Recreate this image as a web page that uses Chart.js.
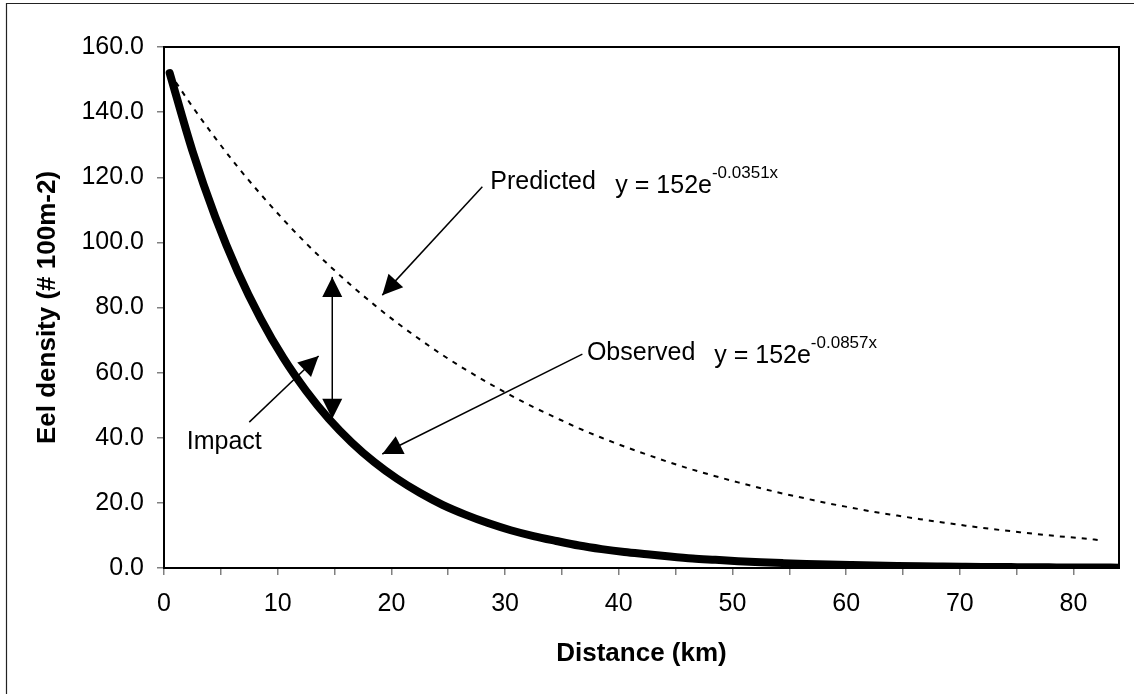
<!DOCTYPE html>
<html>
<head>
<meta charset="utf-8">
<title>Eel density vs distance</title>
<script src="https://cdn.jsdelivr.net/npm/chart.js@4.4.1/dist/chart.umd.min.js"></script>
<style>
  html, body { margin: 0; padding: 0; background: #fff; overflow: hidden; }
  #wrap { width: 1134px; height: 694px; position: relative; }
</style>
</head>
<body>
<div id="wrap"><canvas id="chart"></canvas></div>
<script>
// values (distance in km, density in # per 100 m2)
const distanceKm = [0.5, 2.5, 4.5, 6.5, 8.5, 10.5, 12.5, 14.5, 16.5, 18.5, 20.5, 22.5, 24.5, 26.5, 28.5,
  30.5, 32.5, 34.5, 36.5, 38.5, 40.5, 42.5, 44.5, 46.5, 48.5, 50.5, 52.5, 54.5, 56.5, 58.5, 60.5,
  62.5, 64.5, 66.5, 68.5, 70.5, 72.5, 74.5, 76.5, 78.5, 80.5, 82.5];
const observedDistance = distanceKm.concat([84]);
const observedDensity = [152, 128.1, 107.9, 90.9, 76.6, 64.5, 54.4, 45.8, 38.6, 32.5, 27.4, 23.1, 19.4, 16.4, 13.8,
  11.6, 9.8, 8.3, 6.9, 5.8, 4.9, 4.2, 3.5, 2.9, 2.5, 2.1, 1.76, 1.49, 1.25, 1.05, 0.89,
  0.75, 0.63, 0.53, 0.45, 0.38, 0.32, 0.27, 0.22, 0.19, 0.16, 0.13, 0.11];
const predictedDistance = distanceKm;
const predictedDensity = [152, 141.7, 132.1, 123.1, 114.8, 107.0, 99.7, 93.0, 86.7, 80.8, 75.3, 70.2, 65.4, 61.0, 56.9,
  53.0, 49.4, 46.1, 42.9, 40.0, 37.3, 34.8, 32.4, 30.2, 28.2, 26.3, 24.5, 22.8, 21.3, 19.8, 18.5,
  17.2, 16.1, 15.0, 14.0, 13.0, 12.1, 11.3, 10.5, 9.8, 9.2, 8.5];

// axis ranges and ticks
const xMin = 0, xMax = 84, xStep = 5, xLabelEvery = 10;
const yMin = 0, yMax = 160, yStep = 20;

// arrows [fromX, fromY, toX, toY, bothEnds] in data units
const arrows = [
  [28.0, 117.1, 19.2, 83.8, false],   // Predicted
  [36.8, 65.7, 19.2, 35.0, false],    // Observed
  [14.8, 45.8, 14.8, 89.4, true],     // Impact gap
  [7.5, 44.8, 13.6, 65.1, false]      // Impact label
];
// text labels [x, y, text, superscript] in data units (left / baseline)
const notes = [
  [28.7, 116.4, "Predicted", ""],
  [39.7, 115.2, "y = 152e", "-0.0351x"],
  [37.2, 63.9, "Observed", ""],
  [48.4, 63.0, "y = 152e", "-0.0857x"],
  [2.0, 36.5, "Impact", ""]
];

const FONT = '"Liberation Sans", Arial, Helvetica, sans-serif';

function toPoints(xs, ys) {
  return xs.map((x, i) => ({ x: x, y: ys[i] }));
}

// draws plot frame, outer frame, arrows and notes
const annotate = {
  id: "annotate",
  beforeDraw(chart) {
    const ctx = chart.ctx;
    ctx.save();
    ctx.fillStyle = "#fff";
    ctx.fillRect(0, 0, chart.width, chart.height);
    ctx.strokeStyle = "#222";
    ctx.lineWidth = 1.2;
    ctx.beginPath();
    ctx.moveTo(6.5, chart.height);
    ctx.lineTo(6.5, 3.5);
    ctx.lineTo(chart.width, 3.5);
    ctx.stroke();
    ctx.restore();
  },
  afterDatasetsDraw(chart) {
    const ctx = chart.ctx;
    const xs = chart.scales.x, ys = chart.scales.y;
    const a = chart.chartArea;
    ctx.save();
    ctx.strokeStyle = "#000";
    ctx.lineWidth = 2;
    ctx.strokeRect(a.left, a.top, a.right - a.left, a.bottom - a.top);

    ctx.fillStyle = "#000";
    ctx.lineWidth = 1.5;
    arrows.forEach(([x1, y1, x2, y2, both]) => {
      const p1 = { x: xs.getPixelForValue(x1), y: ys.getPixelForValue(y1) };
      const p2 = { x: xs.getPixelForValue(x2), y: ys.getPixelForValue(y2) };
      ctx.beginPath();
      ctx.moveTo(p1.x, p1.y);
      ctx.lineTo(p2.x, p2.y);
      ctx.stroke();
      drawHead(ctx, p1, p2);
      if (both) drawHead(ctx, p2, p1);
    });

    ctx.textAlign = "left";
    ctx.textBaseline = "alphabetic";
    notes.forEach(([x, y, text, sup]) => {
      const px = xs.getPixelForValue(x), py = ys.getPixelForValue(y);
      ctx.font = "25px " + FONT;
      ctx.fillText(text, px, py);
      if (sup) {
        const w = ctx.measureText(text).width;
        ctx.font = "17px " + FONT;
        ctx.fillText(sup, px + w, py - 15);
      }
    });
    ctx.restore();
  }
};

function drawHead(ctx, from, to) {
  const len = 20, half = 10;
  const ang = Math.atan2(to.y - from.y, to.x - from.x);
  const bx = to.x - len * Math.cos(ang), by = to.y - len * Math.sin(ang);
  ctx.beginPath();
  ctx.moveTo(to.x, to.y);
  ctx.lineTo(bx + half * Math.sin(ang), by - half * Math.cos(ang));
  ctx.lineTo(bx - half * Math.sin(ang), by + half * Math.cos(ang));
  ctx.closePath();
  ctx.fill();
}

document.addEventListener("DOMContentLoaded", function () {
  const ctx = document.getElementById("chart").getContext("2d");
  new Chart(ctx, {
    type: "scatter",
    data: {
      datasets: [
        {
          label: "Predicted",
          data: toPoints(predictedDistance, predictedDensity),
          showLine: true,
          borderColor: "#000",
          borderWidth: 2,
          borderDash: [5, 6],
          pointRadius: 0,
          cubicInterpolationMode: "monotone",
          clip: { left: 0, top: 0, right: 0, bottom: 1 }
        },
        {
          label: "Observed",
          data: toPoints(observedDistance, observedDensity),
          showLine: true,
          borderColor: "#000",
          borderWidth: 8,
          borderCapStyle: "round",
          borderJoinStyle: "round",
          pointRadius: 0,
          cubicInterpolationMode: "monotone",
          clip: { left: 0, top: 0, right: 0, bottom: 1 }
        }
      ]
    },
    options: {
      responsive: true,
      maintainAspectRatio: false,
      animation: false,
      layout: { padding: { left: 0, top: 47, right: 15, bottom: 0 } },
      plugins: { legend: { display: false }, tooltip: { enabled: false } },
      scales: {
        x: {
          type: "linear",
          min: xMin,
          max: xMax,
          afterBuildTicks: (scale) => {
            scale.ticks = scale.ticks.filter(t => t.value % xStep === 0);
          },
          afterFit: (scale) => { scale.height = 126; },
          ticks: {
            stepSize: xStep,
            autoSkip: false,
            maxRotation: 0,
            padding: 14,
            color: "#000",
            font: { family: FONT, size: 25 },
            callback: (v) => (v % xLabelEvery === 0 ? String(v) : "")
          },
          grid: { drawOnChartArea: false, tickLength: 7, color: "#808080", lineWidth: 1.5 },
          border: { display: true, color: "#000", width: 2 },
          title: {
            display: true,
            text: "Distance (km)",
            color: "#000",
            font: { family: FONT, size: 26, weight: "bold" },
            padding: { top: 0, bottom: 25 }
          }
        },
        y: {
          min: yMin,
          max: yMax,
          afterFit: (scale) => { scale.width = 164; },
          ticks: {
            stepSize: yStep,
            padding: 13,
            color: "#000",
            font: { family: FONT, size: 25 },
            callback: (v) => v.toFixed(1)
          },
          grid: { drawOnChartArea: false, tickLength: 7, color: "#808080", lineWidth: 1.5 },
          border: { display: true, color: "#000", width: 2 },
          title: {
            display: true,
            text: "Eel density (# 100m-2)",
            color: "#000",
            font: { family: FONT, size: 26, weight: "bold" },
            padding: { top: 32, bottom: 0 }
          }
        }
      }
    },
    plugins: [annotate]
  });
});
</script>
</body>
</html>
